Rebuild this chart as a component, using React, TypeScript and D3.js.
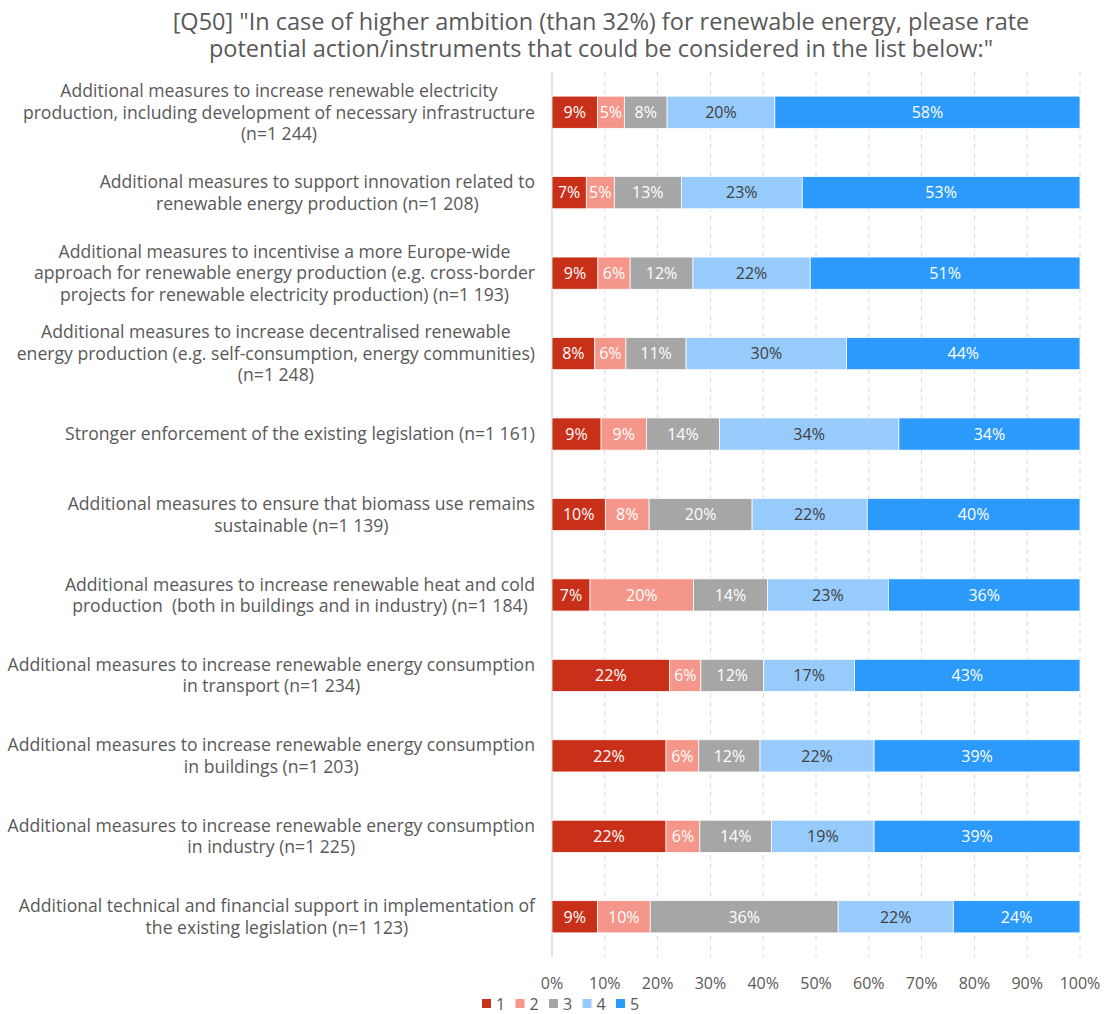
import React, { useEffect, useRef } from "react";
import * as d3 from "d3";

const titleLines = [
  '[Q50] "In case of higher ambition (than 32%) for renewable energy, please rate',
  'potential action/instruments that could be considered in the list below:"',
];

const categories: string[][] = [
  ["Additional measures to increase renewable electricity", "production, including development of necessary infrastructure", "(n=1 244)"],
  ["Additional measures to support innovation related to", "renewable energy production (n=1 208)"],
  ["Additional measures to incentivise a more Europe-wide", "approach for renewable energy production (e.g. cross-border", "projects for renewable electricity production) (n=1 193)"],
  ["Additional measures to increase decentralised renewable", "energy production (e.g. self-consumption, energy communities)", "(n=1 248)"],
  ["Stronger enforcement of the existing legislation (n=1 161)"],
  ["Additional measures to ensure that biomass use remains", "sustainable (n=1 139)"],
  ["Additional measures to increase renewable heat and cold", "production  (both in buildings and in industry) (n=1 184)"],
  ["Additional measures to increase renewable energy consumption", "in transport (n=1 234)"],
  ["Additional measures to increase renewable energy consumption", "in buildings (n=1 203)"],
  ["Additional measures to increase renewable energy consumption", "in industry (n=1 225)"],
  ["Additional technical and financial support in implementation of", "the existing legislation (n=1 123)"],
];

const seriesNames = ["1", "2", "3", "4", "5"];
const s1 = [8.6, 6.5, 8.7, 8.1, 9.3, 10.1, 7.2, 22.3, 21.6, 21.6, 8.6];
const s2 = [5.1, 5.3, 6.1, 5.9, 8.6, 8.3, 19.6, 5.9, 6.2, 6.4, 10.0];
const s3 = [8.1, 12.7, 11.9, 11.4, 13.8, 19.5, 14.0, 11.9, 11.6, 13.6, 35.6];
const s4 = [20.4, 22.9, 22.2, 30.4, 34.0, 21.8, 22.9, 17.2, 21.6, 19.4, 21.8];
const s5 = [57.8, 52.6, 51.1, 44.2, 34.3, 40.3, 36.3, 42.7, 39.0, 39.0, 24.0];
const seriesColors = ["#C9301A", "#F4978A", "#A6A6A6", "#97CBFC", "#2B9AFB"];
const labelColors = ["#ffffff", "#ffffff", "#ffffff", "#404040", "#ffffff"];
const tickValues = [0, 10, 20, 30, 40, 50, 60, 70, 80, 90, 100];

const W = 1104;
const H = 1014;
const FONT = "'Open Sans', sans-serif";
const TEXT = "#595959";

export default function App() {
  const ref = useRef<SVGSVGElement | null>(null);

  useEffect(() => {
    const svg = d3.select(ref.current);
    svg.selectAll("*").remove();

    const left = 552, right = 1080, top = 72, bottom = 957;
    const x = d3.scaleLinear().domain([0, 100]).range([left, right]);
    const y = d3
      .scaleBand<number>()
      .domain(d3.range(categories.length))
      .range([top, bottom])
      .paddingInner(0.6)
      .paddingOuter(0.3);

    // title
    svg
      .append("g")
      .selectAll("text")
      .data(titleLines)
      .join("text")
      .attr("x", 601)
      .attr("y", (_d, i) => 30 + i * 27)
      .attr("text-anchor", "middle")
      .attr("font-family", FONT)
      .attr("font-size", 23.5)
      .attr("fill", TEXT)
      .text((d) => d);

    // gridlines
    svg
      .append("g")
      .selectAll("line")
      .data(tickValues.slice(1))
      .join("line")
      .attr("x1", (d) => x(d))
      .attr("x2", (d) => x(d))
      .attr("y1", top)
      .attr("y2", bottom)
      .attr("stroke", "#D9D9D9")
      .attr("stroke-width", 1)
      .attr("stroke-dasharray", "5,4");

    // axis line
    svg
      .append("line")
      .attr("x1", x(0))
      .attr("x2", x(0))
      .attr("y1", top)
      .attr("y2", bottom)
      .attr("stroke", "#D9D9D9")
      .attr("stroke-width", 1.5);

    // bars
    const series = [s1, s2, s3, s4, s5];
    const rows = categories.map((_c, i) => {
      const o: any = { idx: i };
      seriesNames.forEach((k, j) => (o[k] = series[j][i]));
      return o;
    });
    const stacked = d3.stack<any>().keys(seriesNames)(rows);

    const gBars = svg.append("g");
    stacked.forEach((layer, j) => {
      const g = gBars.append("g");
      g.selectAll("rect")
        .data(layer)
        .join("rect")
        .attr("x", (d) => x(d[0]))
        .attr("y", (d) => y(d.data.idx)!)
        .attr("width", (d) => x(d[1]) - x(d[0]))
        .attr("height", y.bandwidth())
        .attr("fill", seriesColors[j])
        .attr("stroke", "#ffffff")
        .attr("stroke-width", 0.75);
      g.selectAll("text")
        .data(layer)
        .join("text")
        .attr("x", (d) => (x(d[0]) + x(d[1])) / 2)
        .attr("y", (d) => y(d.data.idx)! + y.bandwidth() / 2)
        .attr("dy", "0.36em")
        .attr("text-anchor", "middle")
        .attr("font-family", FONT)
        .attr("font-size", 16)
        .attr("fill", labelColors[j])
        .text((d) => Math.round(d[1] - d[0]) + "%");
    });

    // category labels: lines centered within block, block right-aligned
    const labelRight = 535;
    const lineH = 21.5;
    categories.forEach((lines, i) => {
      const g = svg.append("g");
      const cy = y(i)! + y.bandwidth() / 2;
      const texts = g
        .selectAll("text")
        .data(lines)
        .join("text")
        .attr("y", (_d, k) => cy + (k - (lines.length - 1) / 2) * lineH)
        .attr("dy", "0.36em")
        .attr("text-anchor", "middle")
        .attr("font-family", FONT)
        .attr("font-size", 17.6)
        .attr("fill", TEXT)
        .style("white-space", "pre")
        .text((d) => d);
      let maxW = 0;
      texts.each(function () {
        maxW = Math.max(maxW, (this as SVGTextElement).getComputedTextLength());
      });
      texts.attr("x", labelRight - maxW / 2);
    });

    // x tick labels
    svg
      .append("g")
      .selectAll("text")
      .data(tickValues)
      .join("text")
      .attr("x", (d) => x(d))
      .attr("y", 989)
      .attr("text-anchor", "middle")
      .attr("font-family", FONT)
      .attr("font-size", 16)
      .attr("fill", TEXT)
      .text((d) => d + "%");

    // legend
    const lg = svg.append("g");
    seriesNames.forEach((n, j) => {
      const lx = 482 + j * 33.5;
      lg.append("rect")
        .attr("x", lx)
        .attr("y", 999)
        .attr("width", 9)
        .attr("height", 9)
        .attr("fill", seriesColors[j]);
      lg.append("text")
        .attr("x", lx + 14)
        .attr("y", 1010)
        .attr("font-family", FONT)
        .attr("font-size", 16)
        .attr("fill", TEXT)
        .text(n);
    });
  }, []);

  return (
    <svg
      ref={ref}
      width={W}
      height={H}
      style={{ position: "absolute", left: 0, top: 0, background: "#ffffff" }}
    />
  );
}
